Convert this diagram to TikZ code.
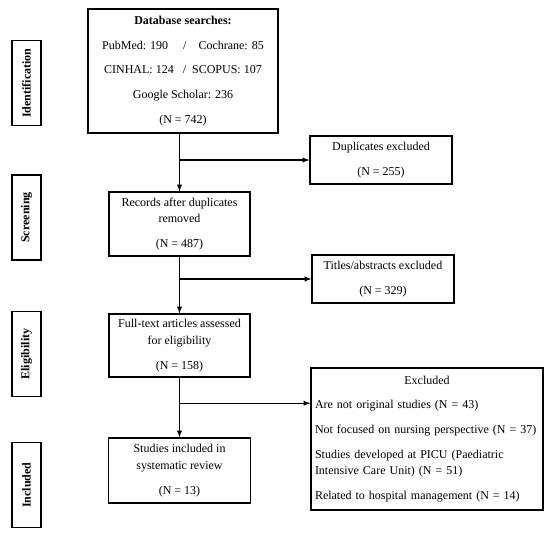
\documentclass[tikz,border=0pt]{standalone}
\usepackage{fontspec}
\setmainfont{Liberation Serif}
\usetikzlibrary{calc}
\tikzset{
	stage/.style={draw, line width=0.8pt, rotate=90, inner sep=0pt, minimum height=21.75pt, minimum width=63.75pt, font=\bfseries\fontsize{9}{11}\selectfont},
	flowbox/.style={draw, line width=0.8pt, align=center, inner sep=0pt, font=\fontsize{9}{12.5}\selectfont}
}
\begin{document}
\begin{tikzpicture}[x=0.75pt, y=-0.75pt, >=latex]
		\useasboundingbox (0,0) rectangle (550,533);
		\node[stage] (ident) at (26.5,83) {Identification};
		\node[stage] (screen) at (26.5,217.5) {Screening};
		\node[stage] (elig) at (26.5,354) {Eligibility};
		\node[stage] (incl) at (26.5,485) {Included};
		\node[flowbox, minimum width=142.5pt, minimum height=93pt] (db) at (183,71)
		{\textbf{Database searches:}\\[6pt] PubMed: 190 \quad/\quad Cochrane: 85\\[6pt] CINHAL: 124 \ \ /\ \ SCOPUS: 107\\[6pt] Google Scholar: 236\\[6pt] (N = 742)};
		\node[flowbox, minimum width=106.5pt, minimum height=36pt] (dup) at (381,160)
		{Duplicates excluded\\[6pt] (N = 255)};
		\node[flowbox, minimum width=105.75pt, minimum height=48pt] (rec) at (179.5,224)
		{Records after duplicates\\ removed\\[6pt] (N = 487)};
		\node[flowbox, minimum width=106.5pt, minimum height=36pt] (tit) at (383,279)
		{Titles/abstracts excluded\\[6pt] (N = 329)};
		\node[flowbox, minimum width=105.75pt, minimum height=47.25pt] (full) at (179.5,345.5)
		{Full-text articles assessed\\ for eligibility\\[6pt] (N = 158)};
		\node[flowbox, align=left, text width=168pt, inner xsep=3pt, minimum height=106.5pt] (exc) at (427,439)
		{\makebox[\linewidth]{Excluded}\\[6pt] Are not original studies (N = 43)\\[6pt] Not focused on nursing perspective (N = 37)\\[6pt] Studies developed at PICU (Paediatric\\ Intensive Care Unit) (N = 51)\\[6pt] Related to hospital management (N = 14)};
		\node[flowbox, minimum width=106.5pt, minimum height=48.75pt] (inc) at (179.5,470.5)
		{Studies included in\\ systematic review\\[6pt] (N = 13)};
		\coordinate (excin) at ($(exc.north west)!0.25!(exc.south west)$);
		\draw[->, line width=0.8pt] (db.south -| rec.north) -- (rec.north);
		\draw[->, line width=0.8pt] (rec.north |- dup.west) -- (dup.west);
		\draw[->, line width=0.8pt] (rec.south) -- (full.north);
		\draw[->, line width=0.8pt] (rec.south |- tit.west) -- (tit.west);
		\draw[->, line width=0.8pt] (full.south) -- (inc.north);
		\draw[->, line width=0.8pt] (full.south |- excin) -- (excin);
	\end{tikzpicture}
\end{document}
